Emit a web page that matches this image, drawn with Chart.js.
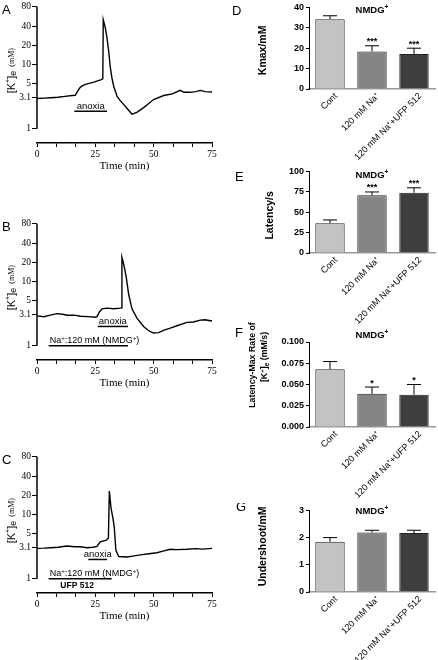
<!DOCTYPE html>
<html>
<head>
<meta charset="utf-8">
<script src="https://cdn.jsdelivr.net/npm/chart.js@4.4.1/dist/chart.umd.min.js"></script>
<style>
  body { margin: 0; background: #fff; width: 438px; height: 660px; position: relative; overflow: hidden; }
  canvas { position: absolute; }
</style>
</head>
<body>
<canvas id="chartA" width="225" height="180" style="left:0;top:0"></canvas>
<canvas id="chartB" width="225" height="180" style="left:0;top:217px"></canvas>
<canvas id="chartC" width="225" height="180" style="left:0;top:450px"></canvas>
<canvas id="chartD" width="208" height="164" style="left:230px;top:0"></canvas>
<canvas id="chartE" width="208" height="164" style="left:230px;top:164px"></canvas>
<canvas id="chartF" width="208" height="186" style="left:230px;top:316px"></canvas>
<canvas id="chartG" width="208" height="157" style="left:230px;top:503px"></canvas>
<script>
const timeA = [0, 3, 6, 9, 12, 15, 16.4, 17.5, 18.6, 20, 21.5, 24, 27.3, 28.2, 28.4, 29.3, 30, 30.7, 31.4, 32.1, 32.9, 34.3, 35.5, 37.1, 39, 40.7, 42.8, 45.7, 48, 50, 54.3, 58, 61.4, 63, 65.7, 68, 70, 72, 75];
const kA = [2.96, 3.0, 3.05, 3.1, 3.2, 3.3, 3.33, 3.9, 4.47, 4.8, 5.0, 5.3, 5.77, 6.0, 50, 37, 26, 16.5, 9.2, 6.2, 4.57, 3.21, 2.8, 2.4, 2.0, 1.69, 1.8, 2.14, 2.5, 2.86, 3.3, 3.5, 3.97, 3.7, 3.7, 3.8, 3.97, 3.8, 3.75];

const timeB = [0, 2.9, 5.7, 8.6, 11, 12.9, 16, 18.6, 22, 25, 25.7, 26.8, 27.9, 30, 32.9, 35.7, 36.1, 36.4, 37.1, 37.7, 38.3, 39.3, 40.7, 42.9, 45.7, 48, 50, 52.1, 54.5, 57.1, 60, 64.3, 67, 70, 72, 74.3, 75];
const kB = [2.93, 2.83, 3.0, 3.17, 3.1, 2.99, 3.0, 2.89, 2.85, 2.79, 2.85, 3.4, 3.77, 3.86, 3.77, 3.86, 3.9, 23.9, 19, 15, 11.3, 6.3, 3.77, 2.67, 2.0, 1.7, 1.58, 1.6, 1.75, 1.88, 2.05, 2.32, 2.35, 2.51, 2.55, 2.45, 2.45];

const timeC = [0, 3, 5.7, 9, 12.9, 16, 18.6, 21.4, 24, 25.7, 27.1, 29.7, 30.3, 30.6, 31, 31.7, 32.6, 33.1, 33.8, 35, 38.6, 41, 44.3, 48, 51.4, 54, 57.1, 60, 64.3, 68, 71, 75];
const kC = [2.98, 3.0, 3.05, 3.1, 3.24, 3.15, 3.15, 3.05, 3.1, 3.2, 3.77, 4.0, 4.2, 4.3, 23.3, 12.9, 8.6, 6.4, 2.81, 2.22, 2.18, 2.25, 2.36, 2.45, 2.55, 2.7, 2.88, 2.85, 2.88, 2.95, 2.9, 2.98];

const kTicks = [1, 3.1, 5, 10, 20, 40, 80];
const timeTicks = [0, 25, 50, 75];

// time windows of the bars under the traces
const anoxiaA = [16, 30];
const anoxiaB = [26, 39];
const anoxiaC = [22, 30];
const sodiumB = [5, 39];
const sodiumC = [5, 32];

// bar panels D-G
const groups = ["Cont", "120 mM Na⁺", "120 mM Na⁺+UFP 512"];

const kmaxMean = [34.2, 18.4, 17.1];
const kmaxErr = [1.7, 2.8, 2.9];
const kmaxStars = ["", "***", "***"];
const kmaxTicks = [0, 10, 20, 30, 40];

const latMean = [36.5, 70.8, 73.9];
const latErr = [4, 4, 6];
const latStars = ["", "***", "***"];
const latTicks = [0, 25, 50, 75, 100];

const rateMean = [0.068, 0.039, 0.038];
const rateErr = [0.009, 0.008, 0.012];
const rateStars = ["", "*", "*"];
const rateTicks = [0, 0.025, 0.05, 0.075, 0.1];

const underMean = [1.85, 2.19, 2.17];
const underErr = [0.15, 0.08, 0.1];
const underStars = ["", "", ""];
const underTicks = [0, 1, 2, 3];

const SANS = '"Liberation Sans", Arial, sans-serif';
const SERIF = '"Liberation Serif", "Times New Roman", serif';

// draws text made of pieces with their own font and vertical shift
function drawRich(ctx, parts, x, y, align) {
  let w = 0;
  for (const p of parts) { ctx.font = p.font; w += ctx.measureText(p.t).width; }
  let cx = align === "center" ? x - w / 2 : align === "right" ? x - w : x;
  ctx.textAlign = "left";
  for (const p of parts) {
    ctx.font = p.font;
    ctx.fillText(p.t, cx, y + (p.dy || 0));
    cx += ctx.measureText(p.t).width;
  }
}

function drawVertical(ctx, parts, x, y) {
  ctx.save();
  ctx.translate(x, y);
  ctx.rotate(-Math.PI / 2);
  ctx.textBaseline = "middle";
  drawRich(ctx, parts, 0, 0, "center");
  ctx.restore();
}

function tracePlugin(o) {
  return {
    id: "trace",
    afterDraw(chart) {
      const ctx = chart.ctx;
      const a = chart.chartArea;
      const x = chart.scales.x;
      const y = chart.scales.y;
      ctx.save();
      ctx.strokeStyle = "#000";
      ctx.fillStyle = "#000";

      // y axis line only spans 1..80
      ctx.lineWidth = 1.5;
      ctx.beginPath();
      ctx.moveTo(a.left, y.getPixelForValue(kTicks[kTicks.length - 1]));
      ctx.lineTo(a.left, y.getPixelForValue(kTicks[0]));
      ctx.stroke();

      ctx.textBaseline = "alphabetic";
      ctx.font = "13px " + SANS;
      ctx.textAlign = "left";
      ctx.fillText(o.letter, 2, a.top + 7);

      drawVertical(ctx, [
        { t: "[K", font: "11px " + SANS },
        { t: "+", font: "7px " + SANS, dy: -4 },
        { t: "]", font: "11px " + SANS },
        { t: "e", font: "9px " + SANS, dy: 2 },
        { t: "  (mM)", font: "8px " + SERIF }
      ], 12, a.top + 64);

      ctx.font = "11px " + SERIF;
      ctx.textAlign = "center";
      ctx.fillText("Time (min)", (a.left + a.right) / 2, a.bottom + 26);

      // anoxia bar
      const ay = y.getPixelForValue(o.anoxiaLevel);
      const ax0 = x.getPixelForValue(o.anoxia[0]);
      const ax1 = x.getPixelForValue(o.anoxia[1]);
      ctx.lineWidth = 1.5;
      ctx.beginPath();
      ctx.moveTo(ax0, ay);
      ctx.lineTo(ax1, ay);
      ctx.stroke();
      ctx.font = "9.5px " + SANS;
      ctx.textAlign = "center";
      ctx.fillText("anoxia", (ax0 + ax1) / 2, ay - 2.5);

      // Na+ replacement bar
      if (o.sodium) {
        const sy = y.getPixelForValue(1);
        const sx0 = x.getPixelForValue(o.sodium[0]);
        const sx1 = x.getPixelForValue(o.sodium[1]);
        ctx.beginPath();
        ctx.moveTo(sx0, sy);
        ctx.lineTo(sx1, sy);
        ctx.stroke();
        drawRich(ctx, [
          { t: "Na", font: "9px " + SANS },
          { t: "+", font: "6px " + SANS, dy: -3.5 },
          { t: ":120 mM (NMDG", font: "9px " + SANS },
          { t: "+", font: "6px " + SANS, dy: -3.5 },
          { t: ")", font: "9px " + SANS }
        ], sx0 + 1, sy - 2.5, "left");
        if (o.ufp) {
          ctx.font = "bold 8.5px " + SANS;
          ctx.textAlign = "left";
          ctx.fillText("UFP 512", x.getPixelForValue(10), sy + 9);
        }
      }
      ctx.restore();
    }
  };
}

function barPlugin(o) {
  return {
    id: "barNotes",
    afterDatasetsDraw(chart) {
      const ctx = chart.ctx;
      const a = chart.chartArea;
      const y = chart.scales.y;
      const mean = chart.data.datasets[0].data;
      const meta = chart.getDatasetMeta(0);
      ctx.save();
      ctx.strokeStyle = "#000";
      ctx.fillStyle = "#000";
      ctx.lineWidth = 1;
      meta.data.forEach((bar, i) => {
        const top = y.getPixelForValue(mean[i] + o.err[i]);
        ctx.beginPath();
        ctx.moveTo(bar.x, bar.y);
        ctx.lineTo(bar.x, top);
        ctx.moveTo(bar.x - 7, top);
        ctx.lineTo(bar.x + 7, top);
        ctx.stroke();
        if (o.stars[i]) {
          ctx.font = "bold 9px " + SANS;
          ctx.textAlign = "center";
          ctx.textBaseline = "alphabetic";
          ctx.fillText(o.stars[i], bar.x, top - 1.5);
        }
      });

      ctx.textBaseline = "alphabetic";
      ctx.textAlign = "left";
      ctx.font = "13px " + SANS;
      ctx.fillText(o.letter, o.letterX, a.top + o.letterDy);

      ctx.textBaseline = "middle";
      drawRich(ctx, [
        { t: "NMDG", font: "bold 9.5px " + SANS },
        { t: "+", font: "bold 6.5px " + SANS, dy: -3 }
      ], (a.left + a.right) / 2, a.top + o.titleDy, "center");

      o.yTitle.forEach(line => {
        drawVertical(ctx, line.parts, line.x, a.top + line.dy);
      });
      ctx.restore();
    }
  };
}

function minorTimeTicks() {
  const out = [];
  for (let i = 0; i < timeTicks.length - 1; i++) {
    const step = (timeTicks[i + 1] - timeTicks[i]) / 3;
    out.push(timeTicks[i], timeTicks[i] + step, timeTicks[i] + 2 * step);
  }
  out.push(timeTicks[timeTicks.length - 1]);
  return out;
}

function makeTrace(id, times, values, notes) {
  new Chart(document.getElementById(id), {
    type: "line",
    data: {
      datasets: [{
        data: times.map((t, i) => ({ x: t, y: values[i] })),
        borderColor: "#000",
        borderWidth: 1.4,
        pointRadius: 0,
        tension: 0
      }]
    },
    plugins: [tracePlugin(notes)],
    options: {
      responsive: false,
      animation: false,
      layout: { padding: { top: 5, right: 13, left: 0, bottom: 0 } },
      plugins: { legend: { display: false }, tooltip: { enabled: false } },
      scales: {
        x: {
          type: "linear",
          min: 0,
          max: 75,
          afterBuildTicks: s => { s.ticks = minorTimeTicks().map(v => ({ value: v })); },
          afterFit: s => { s.height = 37; },
          ticks: {
            autoSkip: false,
            maxRotation: 0,
            padding: 2,
            color: "#000",
            font: { family: SERIF, size: 9.5 },
            callback: v => (timeTicks.includes(Math.round(v * 100) / 100) ? String(v) : "")
          },
          grid: { drawOnChartArea: false, color: "#000", tickLength: 4, lineWidth: 1 },
          border: { display: true, color: "#000", width: 1.5 }
        },
        y: {
          type: "logarithmic",
          min: 0.63,
          max: 80,
          afterBuildTicks: s => { s.ticks = kTicks.map(v => ({ value: v })); },
          afterFit: s => { s.width = 37; },
          ticks: {
            autoSkip: false,
            padding: 1,
            color: "#000",
            font: { family: SERIF, size: 9.5 },
            callback: v => String(v)
          },
          grid: { drawOnChartArea: false, color: "#000", tickLength: 5, lineWidth: 1 },
          border: { display: false }
        }
      }
    }
  });
}

function makeBar(id, mean, err, stars, ticks, notes, fmt) {
  const padTop = notes.padTop || 4;
  new Chart(document.getElementById(id), {
    type: "bar",
    data: {
      labels: groups,
      datasets: [{
        data: mean,
        backgroundColor: ["#c3c3c3", "#858585", "#3e3e3e"],
        borderColor: "#222",
        borderWidth: 1,
        categoryPercentage: 0.7,
        barPercentage: 1
      }]
    },
    plugins: [barPlugin(Object.assign({ err: err, stars: stars }, notes))],
    options: {
      responsive: false,
      animation: false,
      layout: { padding: { top: padTop, right: 3, left: 0, bottom: 0 } },
      plugins: { legend: { display: false }, tooltip: { enabled: false } },
      scales: {
        x: {
          afterFit: s => { s.height = s.chart.height - padTop - 85; },
          ticks: {
            autoSkip: false,
            minRotation: 45,
            maxRotation: 45,
            labelOffset: 6,
            padding: 2,
            color: "#000",
            font: { family: SANS, size: 9 }
          },
          grid: { display: true, drawOnChartArea: false, drawTicks: false },
          border: { display: true, color: "#9a9a9a", width: 1.5 }
        },
        y: {
          min: ticks[0],
          max: ticks[ticks.length - 1],
          afterBuildTicks: s => { s.ticks = ticks.map(v => ({ value: v })); },
          afterFit: s => { s.width = 79; },
          ticks: {
            autoSkip: false,
            padding: 2,
            color: "#000",
            font: { family: SANS, size: 9, weight: "bold" },
            callback: fmt || (v => String(v))
          },
          grid: { drawOnChartArea: false, color: "#000", tickLength: 3 },
          border: { display: true, color: "#000", width: 1 }
        }
      }
    }
  });
}

makeTrace("chartA", timeA, kA, { letter: "A", anoxia: anoxiaA, anoxiaLevel: 1.88 });
makeTrace("chartB", timeB, kB, { letter: "B", anoxia: anoxiaB, anoxiaLevel: 2.0, sodium: sodiumB });
makeTrace("chartC", timeC, kC, { letter: "C", anoxia: anoxiaC, anoxiaLevel: 2.0, sodium: sodiumC, ufp: true });

const boldTitle = t => [{ t: t, font: "bold 10.5px " + SANS }];

makeBar("chartD", kmaxMean, kmaxErr, kmaxStars, kmaxTicks, {
  letter: "D", letterX: 2, letterDy: 8, titleDy: 3,
  yTitle: [{ parts: boldTitle("Kmax/mM"), x: 33, dy: 43 }]
});
makeBar("chartE", latMean, latErr, latStars, latTicks, {
  letter: "E", letterX: 5, letterDy: 10, titleDy: 3.5,
  yTitle: [{ parts: boldTitle("Latency/s"), x: 40, dy: 44 }]
});
makeBar("chartF", rateMean, rateErr, rateStars, rateTicks, {
  letter: "F", letterX: 5, letterDy: -5, titleDy: -6.5, padTop: 26,
  yTitle: [
    { parts: [{ t: "Latency-Max Rate of", font: "bold 8.8px " + SANS }], x: 23, dy: 23 },
    { parts: [
      { t: "[K", font: "bold 8.8px " + SANS },
      { t: "+", font: "bold 6px " + SANS, dy: -3 },
      { t: "]", font: "bold 8.8px " + SANS },
      { t: "e", font: "bold 6.5px " + SANS, dy: 2 },
      { t: " (mM/s)", font: "bold 8.8px " + SANS }
    ], x: 35, dy: 15 }
  ]
}, v => v.toFixed(3));
makeBar("chartG", underMean, underErr, underStars, underTicks, {
  letter: "G", letterX: 6, letterDy: 1, titleDy: 1,
  yTitle: [{ parts: boldTitle("Undershoot/mM"), x: 33, dy: 36 }]
});
</script>
</body>
</html>
